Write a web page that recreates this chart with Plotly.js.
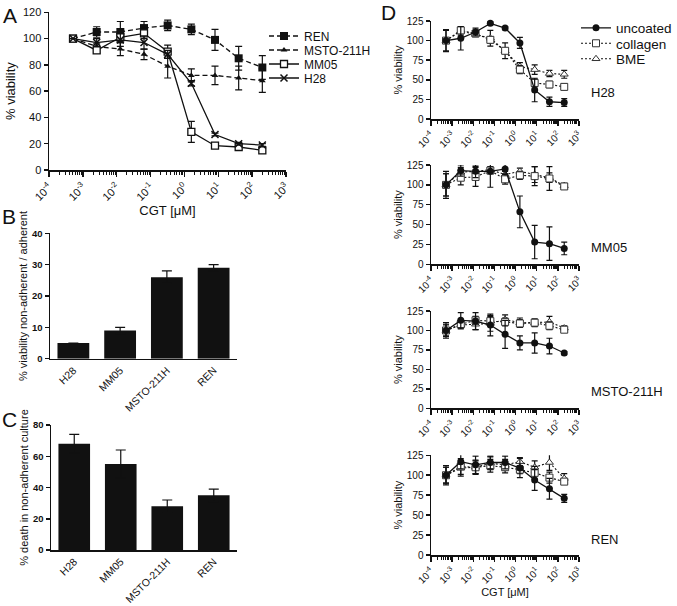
<!DOCTYPE html>
<html><head><meta charset="utf-8">
<script src="https://cdn.plot.ly/plotly-3.0.1.min.js"></script>
<style>html,body{margin:0;padding:0;background:#fff}#chart{width:677px;height:606px}</style>
</head><body><div id="chart"></div>
<script>
// ---------- data ----------
const conc = [0.000512, 0.00256, 0.0128, 0.064, 0.32, 1.6, 8, 40, 200];
const logTickVals = [0.0001, 0.001, 0.01, 0.1, 1, 10, 100, 1000];
const logTickText = ['10<sup>-4</sup>', '10<sup>-3</sup>', '10<sup>-2</sup>', '10<sup>-1</sup>', '10<sup>0</sup>', '10<sup>1</sup>', '10<sup>2</sup>', '10<sup>3</sup>'];

// Panel A
const aNames = ['REN', 'MSTO-211H', 'MM05', 'H28'];
const aREN = [100, 105, 105, 108, 110, 107, 99, 85, 78];
const aRENerr = [0, 4, 8, 5, 4, 4, 8, 9, 9];
const aMSTO = [100, 94, 92, 88, 79, 72, 72, 70, 68];
const aMSTOerr = [0, 2, 5, 4, 9, 5, 7, 9, 9];
const aMM05 = [100, 91, 101, 104, 90, 29, 18.5, 17.5, 15];
const aMM05err = [0, 2, 3, 4, 5, 8, 2, 2, 2];
const aH28 = [100, 97, 99, 97, 88, 66, 27, 20, 19];
const aH28err = [0, 3, 5, 5, 3, 2, 1, 1, 1];

// Panel B and C
const cellLines = ['H28', 'MM05', 'MSTO-211H', 'REN'];
const bValues = [5, 9, 26, 29];
const bErr = [0, 1, 2, 1];
const cValues = [68, 55, 28, 35];
const cErr = [6, 9, 4, 4];

// Panel D
const dLines = ['H28', 'MM05', 'MSTO-211H', 'REN'];
const dUncoated = [
  [100, 103, 111, 122, 116, 97, 37, 22, 21],
  [100, 118, 117, 117, 120, 66, 28, 26, 20],
  [100, 113, 112, 107, 95, 84, 84, 80, 71],
  [100, 117, 113, 116, 116, 109, 94, 83, 71]
];
const dUncoatedErr = [
  [14, 15, 5, 2, 2, 7, 15, 6, 5],
  [17, 7, 8, 20, 6, 20, 21, 21, 8],
  [10, 10, 11, 14, 18, 9, 13, 10, 2],
  [12, 9, 11, 8, 8, 12, 13, 13, 5]
];
const dCollagen = [
  [100, 113, 109, 101, 87, 63, 46, 44, 41],
  [100, 109, 110, 118, 107, 112, 111, 108, 98],
  [100, 108, 113, 112, 111, 109, 110, 106, 101],
  [100, 111, 110, 112, 110, 107, 103, 97, 92]
];
const dCollagenErr = [
  [13, 4, 3, 4, 10, 5, 5, 4, 4],
  [14, 9, 12, 4, 6, 5, 12, 15, 3],
  [7, 4, 5, 6, 5, 5, 4, 5, 3],
  [10, 10, 9, 8, 7, 5, 8, 7, 3]
];
const dBME = [
  [100, 112, 108, 103, 87, 67, 63, 58, 57],
  [100, 116, 117, 119, 113, 117, 113, 109, 99],
  [100, 107, 108, 109, 114, 110, 110, 111, 103],
  [100, 109, 110, 115, 113, 117, 110, 116, 96]
];
const dBMEerr = [
  [2, 5, 3, 10, 3, 5, 6, 4, 5],
  [14, 6, 6, 4, 4, 4, 10, 6, 3],
  [8, 5, 7, 10, 6, 6, 5, 7, 3],
  [10, 10, 8, 8, 7, 5, 8, 10, 6]
];

// ---------- styles ----------
const FONT = 'Liberation Sans, Arial, Helvetica, sans-serif';
const INK = '#111';
const W = 677, H = 606;
const px = v => v / W;
const py = v => 1 - v / H;

function errBar(arr, w) {
  return {type: 'data', array: arr, visible: true, color: INK, thickness: 1.2, width: w};
}

const traces = [];

// Panel A traces
const aSeries = [aREN, aMSTO, aMM05, aH28];
const aErrs = [aRENerr, aMSTOerr, aMM05err, aH28err];
const aStyle = [
  {symbol: 'square', color: INK, lc: INK, lw: 0, size: 8, dash: '5px,3px', legend: 'legend'},
  {symbol: 'triangle-up', color: INK, lc: INK, lw: 0, size: 6, dash: '5px,3px', legend: 'legend2'},
  {symbol: 'square', color: 'white', lc: INK, lw: 1.3, size: 7, dash: 'solid', legend: 'legend3'},
  {symbol: 'x-thin', color: INK, lc: INK, lw: 1.5, size: 7, dash: 'solid', legend: 'legend4'}
];
aSeries.forEach((ys, i) => {
  const s = aStyle[i];
  traces.push({
    type: 'scatter', mode: 'lines+markers', x: conc, y: ys, name: aNames[i],
    xaxis: 'x', yaxis: 'y', legend: s.legend,
    line: {color: INK, width: 1.3, dash: s.dash},
    marker: {symbol: s.symbol, size: s.size, color: s.color, line: {color: s.lc, width: s.lw}},
    error_y: errBar(aErrs[i], 3.5), cliponaxis: false
  });
});

// Panel B and C
traces.push({type: 'bar', x: cellLines, y: bValues, xaxis: 'x2', yaxis: 'y2', showlegend: false,
  marker: {color: INK}, error_y: errBar(bErr, 5)});
traces.push({type: 'bar', x: cellLines, y: cValues, xaxis: 'x3', yaxis: 'y3', showlegend: false,
  marker: {color: INK}, error_y: errBar(cErr, 5)});

// Panel D
const dNames = ['uncoated', 'collagen', 'BME'];
const dStyle = [
  {symbol: 'circle', color: INK, lw: 0, dash: 'solid', legend: 'legend5'},
  {symbol: 'square', color: 'white', lw: 1, dash: '2px,2px', legend: 'legend6'},
  {symbol: 'triangle-up', color: 'white', lw: 1, dash: '2px,2px', legend: 'legend7'}
];
dLines.forEach((ln, k) => {
  const sets = [dUncoated[k], dCollagen[k], dBME[k]];
  const errs = [dUncoatedErr[k], dCollagenErr[k], dBMEerr[k]];
  [2, 1, 0].forEach(j => {
    const s = dStyle[j];
    traces.push({
      type: 'scatter', mode: 'lines+markers', x: conc, y: sets[j], name: dNames[j],
      xaxis: 'x' + (4 + k), yaxis: 'y' + (4 + k), legend: s.legend, showlegend: k === 0,
      line: {color: INK, width: j === 0 ? 1.3 : 1.1, dash: s.dash},
      marker: {symbol: s.symbol, size: 7, color: s.color, line: {color: '#333', width: s.lw}},
      error_y: errBar(errs[j], 3), cliponaxis: false
    });
  });
});

function logAxis(domain, anchor, tickSize, showTitle, titleSize) {
  return {
    type: 'log', domain: domain, anchor: anchor, range: [-4, 3],
    tickmode: 'array', tickvals: logTickVals, ticktext: logTickText, tickangle: -45,
    tickfont: {family: FONT, size: tickSize, color: INK},
    showline: true, linecolor: INK, linewidth: 1.5, ticks: 'outside', ticklen: 5, tickwidth: 1.5, tickcolor: INK,
    minor: {dtick: 'D1', ticks: 'outside', ticklen: 3, tickwidth: 1, tickcolor: INK, showgrid: false},
    showgrid: false, zeroline: false,
    title: showTitle ? {text: 'CGT [μM]', font: {family: FONT, size: titleSize, color: INK}, standoff: 1} : {text: ''}
  };
}
function linAxis(domain, anchor, range, dtick, tickSize, bold, title, titleSize, standoff) {
  return {
    domain: domain, anchor: anchor, range: range, dtick: dtick, tick0: 0,
    tickfont: {family: FONT, size: tickSize, color: INK, weight: bold ? 'bold' : 'normal'},
    showline: true, linecolor: INK, linewidth: 1.5, ticks: 'outside', ticklen: 4, tickwidth: 1.5, tickcolor: INK,
    showgrid: false, zeroline: false,
    title: {text: title, font: {family: FONT, size: titleSize, color: INK}, standoff: standoff}
  };
}
function catAxis(domain, anchor) {
  return {
    domain: domain, anchor: anchor, type: 'category', range: [-0.5, 3.5],
    tickangle: -45, tickfont: {family: FONT, size: 10.5, color: INK},
    showline: true, linecolor: INK, linewidth: 1.5, ticks: '', showgrid: false, zeroline: false
  };
}

const dX = [px(431), px(579)];
const dY = [[py(119), py(21)], [py(264.3), py(165)], [py(408.3), py(311)], [py(555), py(455.3)]];

function legendAt(x, y, size) {
  return {x: x, y: y, xanchor: 'left', yanchor: 'middle', bgcolor: 'rgba(0,0,0,0)',
    font: {family: FONT, size: size, color: INK}, itemwidth: 30, borderwidth: 0};
}

function letter(t, x, y) {
  return {text: t, x: px(x), y: py(y), xref: 'paper', yref: 'paper', xanchor: 'center', yanchor: 'middle',
    showarrow: false, font: {family: FONT, size: 21, color: INK}};
}

const layout = {
  width: W, height: H, margin: {l: 0, r: 0, t: 0, b: 0},
  paper_bgcolor: 'white', plot_bgcolor: 'white',
  font: {family: FONT, color: INK},
  bargap: 0.32,
  xaxis: logAxis([px(49), px(286)], 'y', 11, true, 13),
  yaxis: linAxis([py(170), py(12.3)], 'x', [0, 120], 20, 11, false, '% viability', 13, 4),
  xaxis2: catAxis([px(50), px(237)], 'y2'),
  yaxis2: linAxis([py(358.7), py(233.3)], 'x2', [0, 40], 10, 9.5, true, '% viability non-adherent / adherent', 11, 2),
  xaxis3: catAxis([px(51), px(237)], 'y3'),
  yaxis3: linAxis([py(550), py(425)], 'x3', [0, 80], 20, 9.5, true, '% death in non-adherent culture', 11, 2),
  legend: legendAt(px(264), py(36), 12),
  legend2: legendAt(px(264), py(50), 12),
  legend3: legendAt(px(264), py(64), 12),
  legend4: legendAt(px(264), py(78), 12),
  legend5: legendAt(px(576), py(28), 13.5),
  legend6: legendAt(px(576), py(43.5), 13.5),
  legend7: legendAt(px(576), py(59), 13.5),
  annotations: [
    letter('A', 10, 15),
    letter('B', 9, 216),
    letter('C', 9, 420),
    letter('D', 388, 12)
  ]
};
const dLabelY = [92, 247, 392, 539];
dLines.forEach((ln, k) => {
  layout['xaxis' + (4 + k)] = logAxis(dX, 'y' + (4 + k), 10, k === 3, 11);
  layout['yaxis' + (4 + k)] = linAxis(dY[k], 'x' + (4 + k), [0, 125], 25, 10, false, '% viability', 11, 2);
  layout.annotations.push({text: ln, x: px(589), y: py(dLabelY[k]), xref: 'paper', yref: 'paper',
    xanchor: 'left', yanchor: 'middle', showarrow: false, font: {family: FONT, size: 13, color: INK}});
});

Plotly.newPlot('chart', traces, layout, {displayModeBar: false, staticPlot: true});
</script>
</body></html>
